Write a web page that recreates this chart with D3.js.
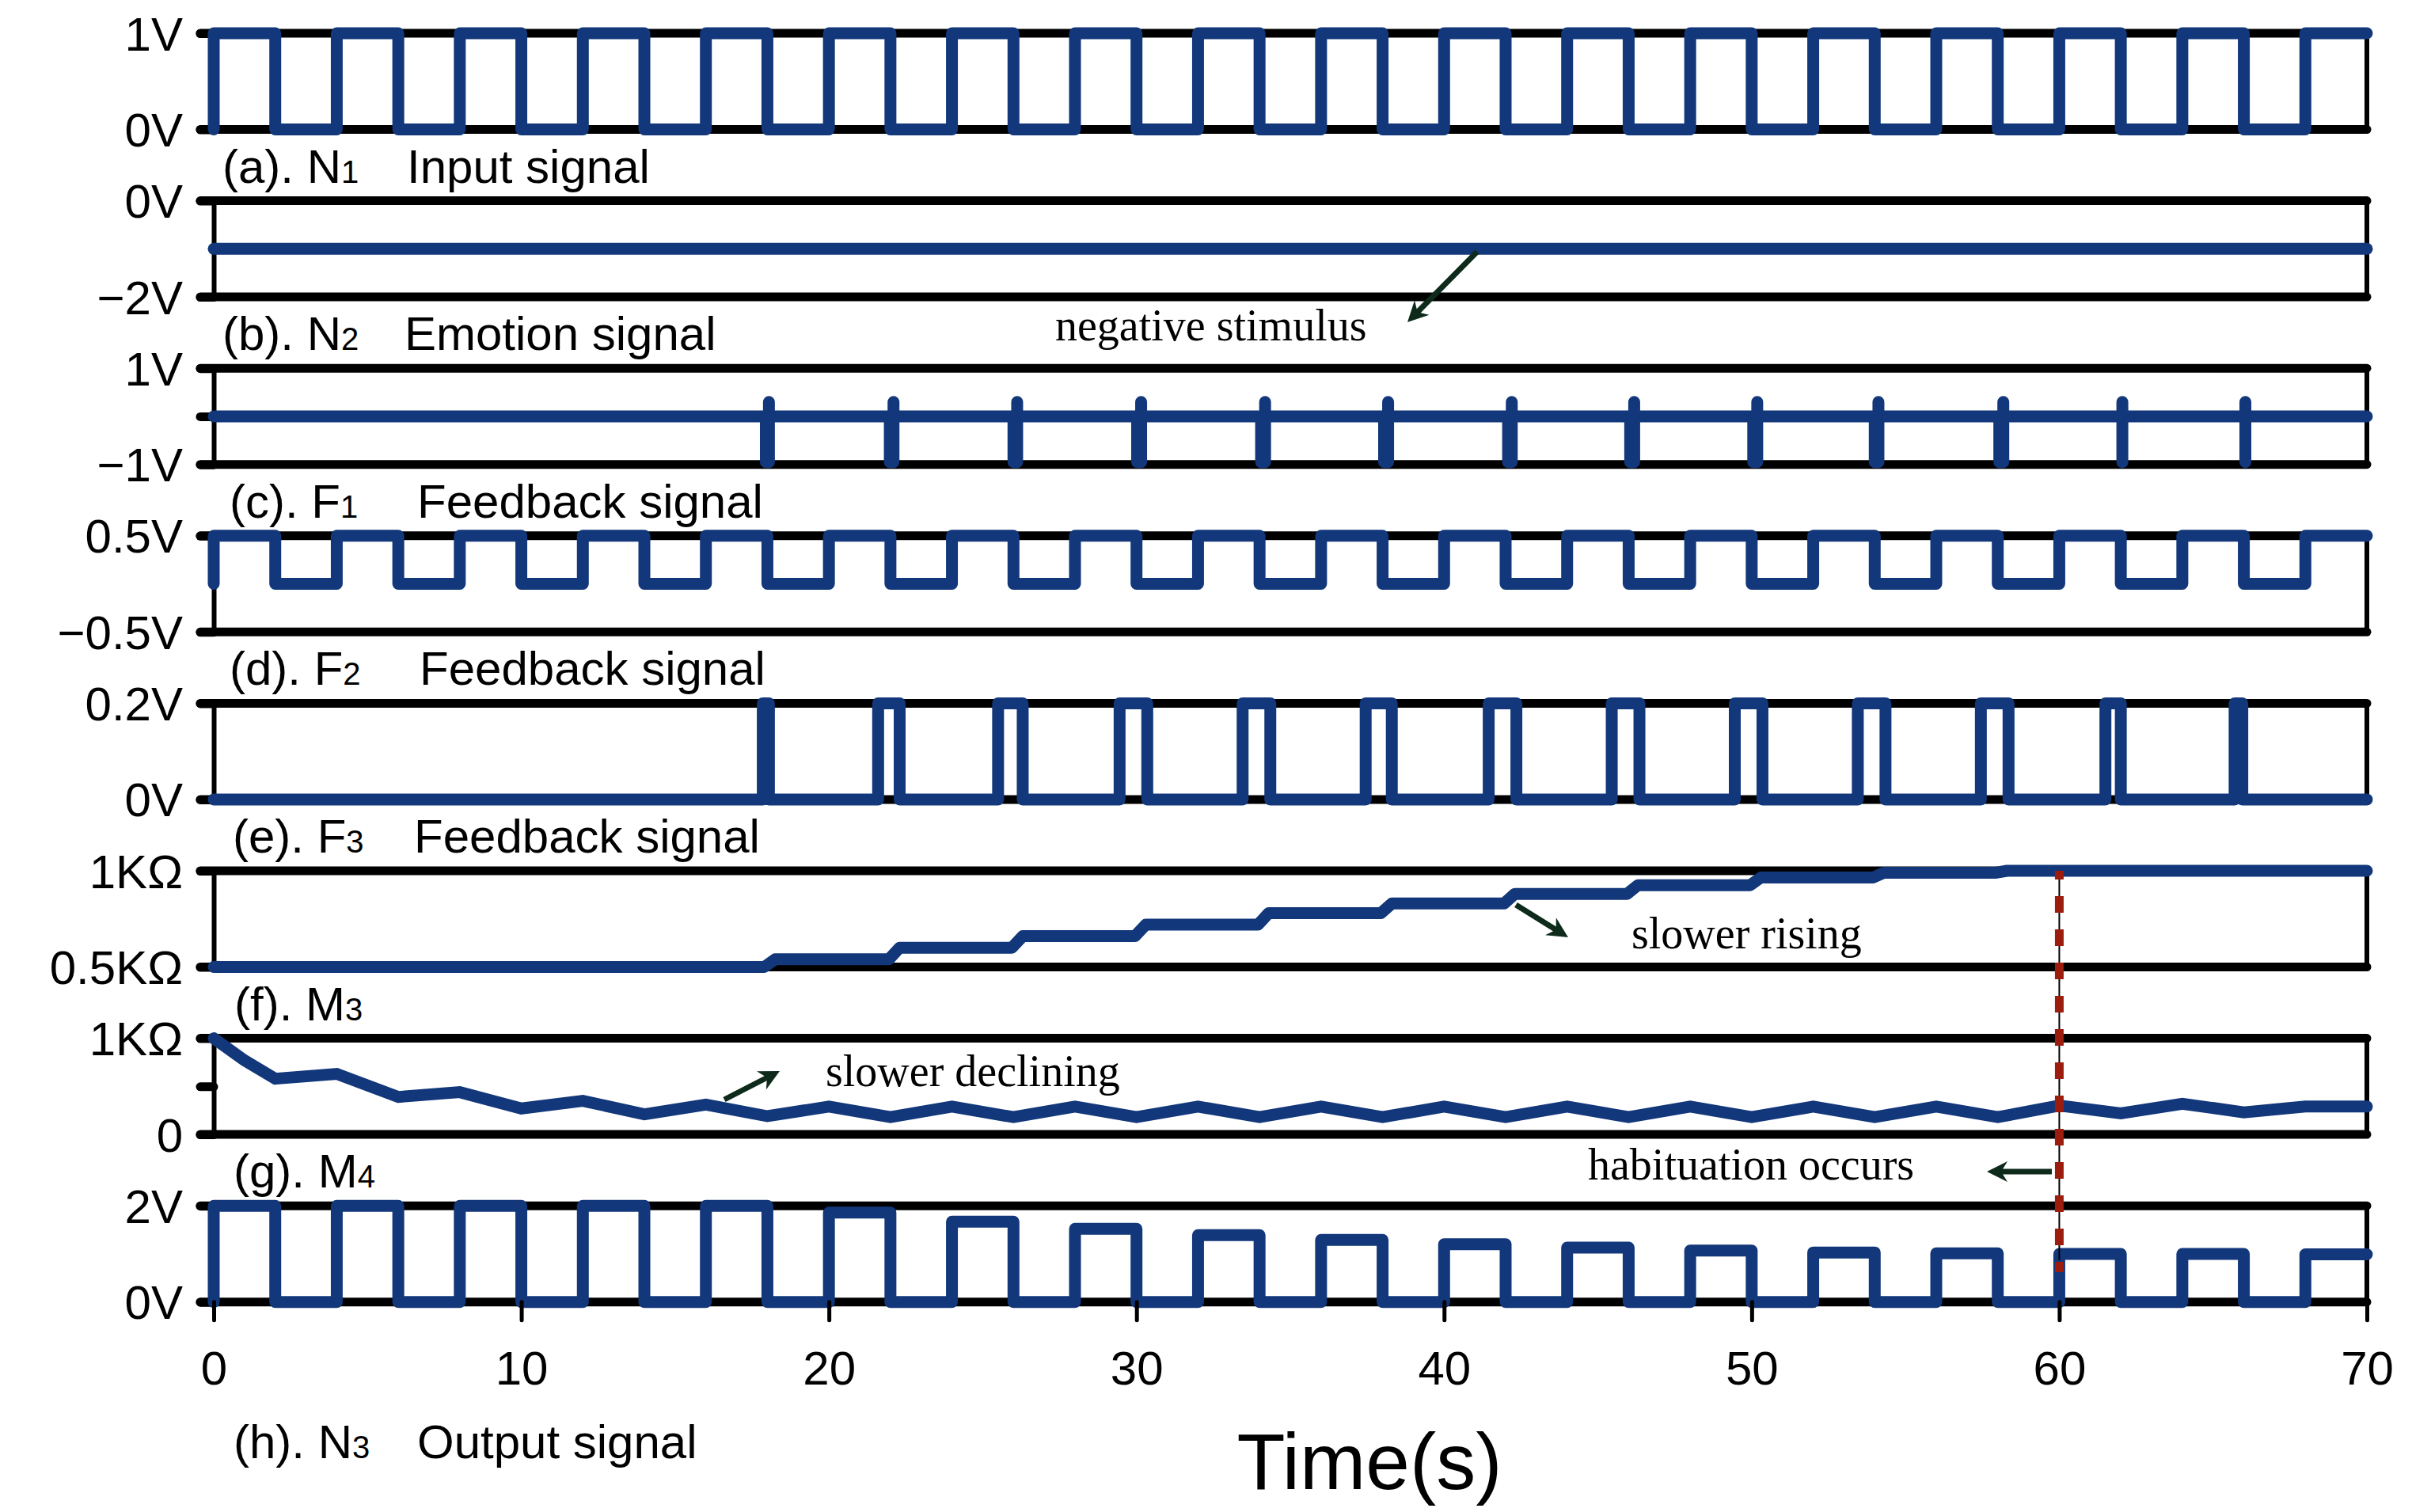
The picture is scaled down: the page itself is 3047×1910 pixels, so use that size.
<!DOCTYPE html>
<html>
<head>
<meta charset="utf-8">
<script src="https://cdn.jsdelivr.net/npm/d3@7"></script>
<style>
  body { margin: 0; background: #fff; }
  svg { display: block; }
</style>
</head>
<body>
<div id="chart"></div>
<script>
const width = 3047, height = 1910;

// ---- data ----
const timeTicks = [0, 10, 20, 30, 40, 50, 60, 70];

// (a) N1 input: [on, off] at 1V
const n1Pulses = [[0,2],[4,6],[8,10],[12,14],[16,18],[20,22],[24,26],[28,30],[32,34],[36,38],
  [40,42],[44,46],[48,50],[52,54],[56,58],[60,62],[64,66],[68,70]];
const n1High = 1, n1Low = 0;

// (b) N2 emotion: constant level
const n2Level = -1;

// (c) F1: negative spikes [down, up]
const f1Spikes = [[17.95,18.05],[21.98,22.1],[26.0,26.12],[30.02,30.15],[34.05,34.18],[38.05,38.18],
  [42.08,42.2],[46.05,46.18],[50.05,50.18],[54.0,54.12],[58.05,58.18],[62.05,62.05],[66.05,66.05]];
const f1Base = 0, f1SpikeTop = 0.3, f1SpikeBottom = -0.95;

// (d) F2: [on, off] at 0.5V, low 0V
const f2Pulses = [[0,2],[4,6],[8,10],[12,14],[16,18],[20,22],[24,26],[28,30],[32,34],[36,38],
  [40,42],[44,46],[48,50],[52,54],[56,58],[60,62],[64,66],[68,70]];
const f2High = 0.5, f2Low = 0;

// (e) F3: [on, off] at 0.2V
const f3Pulses = [[17.85,18.05],[21.6,22.3],[25.5,26.3],[29.45,30.35],[33.45,34.35],[37.45,38.3],
  [41.45,42.35],[45.45,46.35],[49.45,50.35],[53.45,54.35],[57.45,58.35],[61.5,62.0],[65.7,65.95]];
const f3High = 0.2, f3Low = 0;

// (f) M3 staircase [t, KΩ]
const m3Points = [[0,0.5],[17.9,0.5],[18.25,0.54],[21.95,0.54],[22.3,0.6],[25.95,0.6],[26.3,0.66],
  [29.95,0.66],[30.3,0.72],[33.95,0.72],[34.3,0.78],[37.95,0.78],[38.3,0.83],[41.95,0.83],
  [42.3,0.88],[45.95,0.88],[46.3,0.925],[49.95,0.925],[50.3,0.965],[53.95,0.965],[54.3,0.99],
  [57.95,0.99],[58.3,1.0],[70,1.0]];

// (g) M4 [t, KΩ]
const m4Points = [[0,1.0],[1,0.77],[2,0.58],[4,0.63],[6,0.39],[8,0.44],[10,0.27],[12,0.35],[14,0.21],
  [16,0.31],[18,0.19],[20,0.29],[22,0.18],[24,0.29],[26,0.18],[28,0.29],[30,0.18],[32,0.29],
  [34,0.18],[36,0.29],[38,0.18],[40,0.29],[42,0.18],[44,0.29],[46,0.18],[48,0.29],[50,0.18],
  [52,0.29],[54,0.18],[56,0.29],[58,0.18],[60,0.30],[62,0.22],[64,0.32],[66,0.23],[68,0.29],[70,0.29]];

// (h) N3 output: [on, off, high]
const n3Pulses = [[0,2,2],[4,6,2],[8,10,2],[12,14,2],[16,18,2],[20,22,1.86],[24,26,1.67],[28,30,1.52],
  [32,34,1.39],[36,38,1.29],[40,42,1.2],[44,46,1.13],[48,50,1.07],[52,54,1.03],[56,58,1.01],
  [60,62,1.0],[64,66,1.0],[68,70,0.99]];
const n3Low = 0;

const habituationTime = 60;

// panel axes
const panelDomains = [[0,1],[-2,0],[-1,1],[-0.5,0.5],[0,0.2],[0.5,1],[0,1],[0,2]];
const panelTickLabels = [["0V","1V"],["\u22122V","0V"],["\u22121V","","1V"],["\u22120.5V","0.5V"],
  ["0V","0.2V"],["0.5K\u03a9","1K\u03a9"],["0","","1K\u03a9"],["0V","2V"]];
const panelIds = ["(a). N","(b). N","(c). F","(d). F","(e). F","(f). M","(g). M","(h). N"];
const panelSubs = ["1","2","1","2","3","3","4","3"];
const panelNames = ["Input signal","Emotion signal","Feedback signal","Feedback signal","Feedback signal","","","Output signal"];

// ---- layout ----
const left = 270, right = 2990;
const panelTop0 = 42, panelStep = 211.6, panelH = 121.5;
const labelX = [281, 281, 290, 290, 294, 296, 295, 295];
const nameX = [514, 511, 527, 530, 523, 0, 0, 527];
const blue = "#12377a", red = "#9c1c0e", arrowCol = "#0d2a1a";
const sans = "'Liberation Sans', Arial, sans-serif";
const serif = "'Liberation Serif', 'Times New Roman', serif";

const svg = d3.select("#chart").append("svg")
  .attr("width", width).attr("height", height)
  .style("background", "#fff");

const x = d3.scaleLinear().domain([0, 70]).range([left, right]);

const squareWave = (pulses, low, high) => {
  const pts = [[0, low]];
  pulses.forEach(p => {
    const hi = p.length > 2 ? p[2] : high;
    pts.push([p[0], low], [p[0], hi], [p[1], hi]);
    if (p[1] < 70) pts.push([p[1], low]);
  });
  if (pulses[pulses.length - 1][1] < 70) pts.push([70, low]);
  return pts;
};

const spikeWave = (spikes) => {
  const pts = [[0, f1Base]];
  spikes.forEach(s => {
    pts.push([s[0], f1Base], [s[0], f1SpikeBottom], [s[1], f1SpikeBottom], [s[1], f1SpikeTop], [s[1], f1Base]);
  });
  pts.push([70, f1Base]);
  return pts;
};

const signals = [
  squareWave(n1Pulses, n1Low, n1High),
  [[0, n2Level], [70, n2Level]],
  spikeWave(f1Spikes),
  squareWave(f2Pulses, f2Low, f2High),
  squareWave(f3Pulses, f3Low, f3High),
  m3Points,
  m4Points,
  squareWave(n3Pulses, n3Low, 0)
];

const panels = [];

panelDomains.forEach((dom, i) => {
  const top = panelTop0 + panelStep * i;
  const bottom = top + panelH;
  const y = d3.scaleLinear().domain(dom).range([bottom, top]);
  panels.push({ top, bottom, y });

  const g = svg.append("g").attr("class", "panel");

  // frame lines
  [top, bottom].forEach(yy => {
    g.append("line")
      .attr("x1", left - 17).attr("x2", right)
      .attr("y1", yy).attr("y2", yy)
      .attr("stroke", "#000").attr("stroke-width", 11)
      .attr("stroke-linecap", "round");
  });
  g.append("line")
    .attr("x1", right).attr("x2", right)
    .attr("y1", top).attr("y2", bottom)
    .attr("stroke", "#000").attr("stroke-width", 6)
    .attr("stroke-linecap", "round");

  const labels = panelTickLabels[i];
  const tickVals = labels.length === 3 ? [dom[0], (dom[0] + dom[1]) / 2, dom[1]] : dom;

  const axis = g.append("g")
    .attr("transform", `translate(${left},0)`)
    .call(d3.axisLeft(y)
      .tickValues(tickVals)
      .tickFormat((d, k) => labels[k])
      .tickSize(17)
      .tickSizeOuter(0)
      .tickPadding(22));
  axis.select(".domain").attr("stroke", "#000").attr("stroke-width", 6);
  axis.selectAll(".tick line").attr("stroke", "#000").attr("stroke-width", 11).attr("stroke-linecap", "round");
  axis.selectAll(".tick text")
    .attr("fill", "#000")
    .attr("dy", "0.35em")
    .style("font-family", sans)
    .style("font-size", "60px");

  // signal
  const line = d3.line().x(d => x(d[0])).y(d => y(d[1]));
  g.append("path")
    .attr("d", line(signals[i]))
    .attr("fill", "none")
    .attr("stroke", blue)
    .attr("stroke-width", 15)
    .attr("stroke-linecap", "round")
    .attr("stroke-linejoin", i === 6 ? "miter" : "round");

  // panel label
  const lbl = svg.append("text")
    .attr("x", labelX[i])
    .attr("y", i === 7 ? 1842 : bottom + 67)
    .style("font-family", sans)
    .style("font-size", "60px")
    .attr("fill", "#000");
  lbl.append("tspan").text(panelIds[i]);
  lbl.append("tspan").style("font-size", "40px").text(panelSubs[i]);
  if (panelNames[i]) lbl.append("tspan").attr("x", nameX[i]).text(panelNames[i]);
});

// time axis under last panel
const lastP = panels[panels.length - 1];
const xAxis = svg.append("g")
  .attr("transform", `translate(0,${lastP.bottom})`)
  .call(d3.axisBottom(x).tickValues(timeTicks).tickFormat(d3.format("d"))
    .tickSize(23).tickSizeOuter(0).tickPadding(39));
xAxis.select(".domain").remove();
xAxis.selectAll(".tick line").attr("stroke", "#000").attr("stroke-width", 5).attr("stroke-linecap", "round");
xAxis.selectAll(".tick text")
  .attr("fill", "#000")
  .style("font-family", sans)
  .style("font-size", "60px");

svg.append("text")
  .attr("x", 1730).attr("y", 1881)
  .attr("text-anchor", "middle")
  .style("font-family", sans)
  .style("font-size", "100px")
  .text("Time(s)");

// habituation marker
const hx = x(habituationTime);
svg.append("line")
  .attr("x1", hx).attr("x2", hx).attr("y1", 1100).attr("y2", 1592)
  .attr("stroke", "#000").attr("stroke-width", 2);
svg.append("line")
  .attr("x1", hx).attr("x2", hx).attr("y1", 1100).attr("y2", 1607)
  .attr("stroke", red).attr("stroke-width", 11)
  .attr("stroke-dasharray", "21 21")
  .attr("stroke-dashoffset", 10);

// annotations
const notes = [
  { text: "negative stimulus", tx: 1333, ty: 430, from: [1866, 318], to: [1778, 407] },
  { text: "slower rising", tx: 2061, ty: 1198, from: [1915, 1143], to: [1981, 1184] },
  { text: "slower declining", tx: 1043, ty: 1372, from: [915, 1389], to: [985, 1353] },
  { text: "habituation occurs", tx: 2006, ty: 1490, from: [2592, 1480], to: [2510, 1480] }
];

notes.forEach(n => {
  svg.append("text")
    .attr("x", n.tx).attr("y", n.ty)
    .style("font-family", serif)
    .style("font-size", "56px")
    .attr("fill", "#000")
    .text(n.text);

  const ang = Math.atan2(n.to[1] - n.from[1], n.to[0] - n.from[0]);
  const back = 12;
  svg.append("line")
    .attr("x1", n.from[0]).attr("y1", n.from[1])
    .attr("x2", n.to[0] - back * Math.cos(ang)).attr("y2", n.to[1] - back * Math.sin(ang))
    .attr("stroke", arrowCol).attr("stroke-width", 7);
  svg.append("path")
    .attr("d", "M0,0 L-26,-13 L-18,0 L-26,13 Z")
    .attr("fill", arrowCol)
    .attr("transform", `translate(${n.to[0]},${n.to[1]}) rotate(${ang * 180 / Math.PI})`);
});
</script>
</body>
</html>
